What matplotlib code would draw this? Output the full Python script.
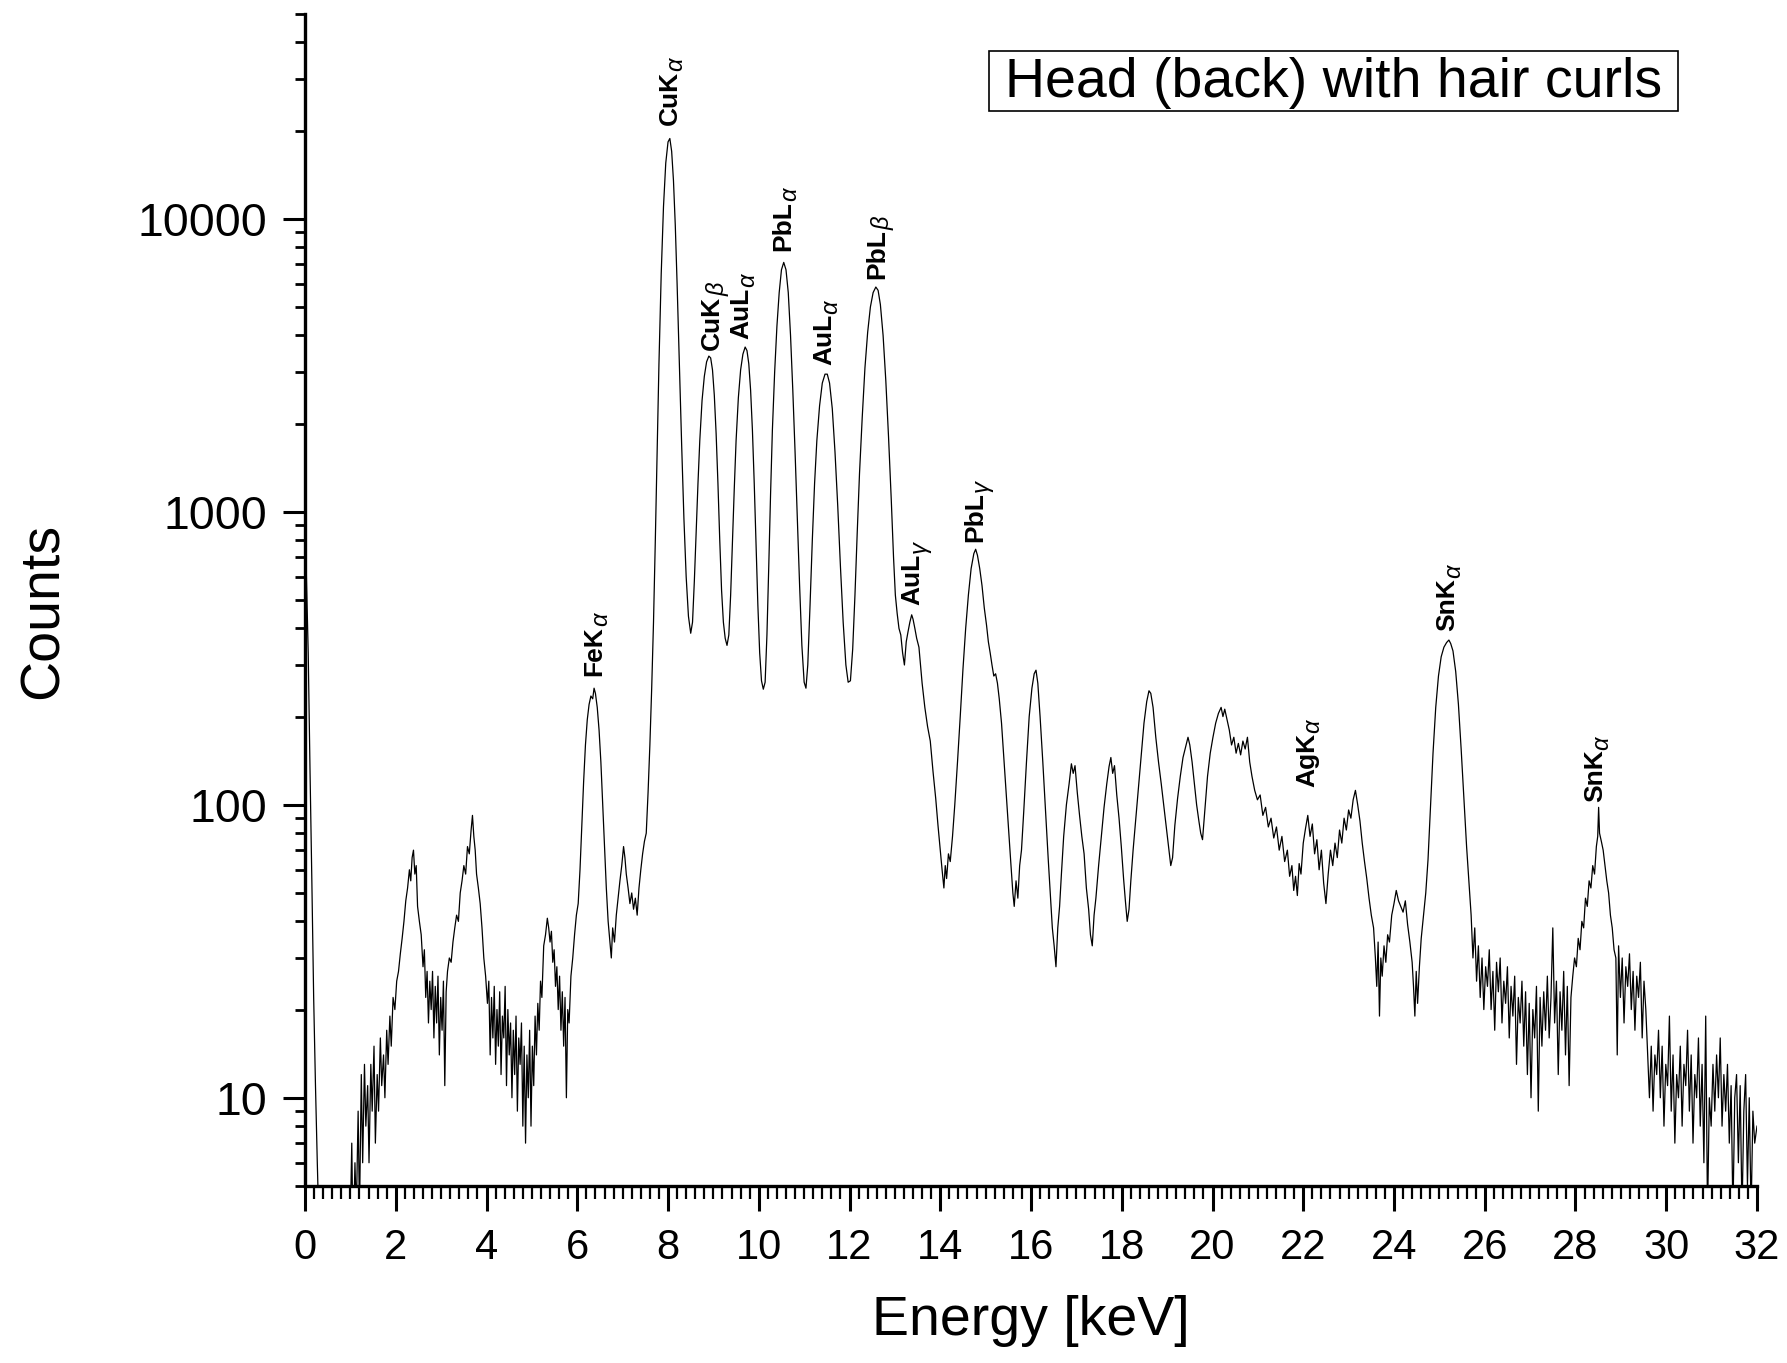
import numpy as np
import matplotlib
matplotlib.use("Agg")
import matplotlib.pyplot as plt
from matplotlib.patches import Rectangle
from matplotlib.ticker import MultipleLocator, LogLocator, NullFormatter

plt.rcParams['font.family'] = 'Liberation Sans'

# spectrum, (energy keV, counts)
low_region = [
    (0.00, 900), (0.03, 600), (0.07, 330), (0.11, 130), (0.15, 55), (0.19, 22), (0.23, 11),
    (0.27, 6), (0.31, 3.5), (0.60, 2), (0.95, 3), (1.00, 4), (1.03, 7), (1.06, 3), (1.10, 6),
    (1.13, 4), (1.17, 9), (1.20, 4), (1.24, 12), (1.27, 6), (1.31, 13), (1.34, 8), (1.38, 11),
    (1.41, 6), (1.45, 13), (1.48, 9), (1.52, 15), (1.55, 7), (1.59, 12), (1.62, 9), (1.66, 16),
    (1.69, 11), (1.73, 14), (1.76, 10), (1.80, 17), (1.83, 13), (1.87, 19), (1.90, 15), (1.94, 22),
    (1.98, 20), (2.02, 25), (2.06, 27), (2.10, 31), (2.14, 35), (2.18, 40), (2.22, 47), (2.26, 52),
    (2.30, 60), (2.33, 55), (2.36, 66), (2.39, 70), (2.42, 58), (2.45, 62), (2.48, 45), (2.52, 40),
    (2.56, 36), (2.60, 28), (2.63, 32), (2.66, 22), (2.69, 27), (2.72, 18), (2.75, 25), (2.78, 20),
    (2.81, 27), (2.84, 16), (2.87, 24), (2.90, 18), (2.93, 26), (2.96, 14), (2.99, 22), (3.02, 17),
    (3.05, 25), (3.08, 11), (3.11, 23), (3.14, 27), (3.18, 30), (3.22, 29), (3.26, 34), (3.30, 38),
    (3.34, 42), (3.38, 40), (3.42, 50), (3.46, 55), (3.50, 62), (3.54, 58), (3.58, 72), (3.62, 68),
    (3.66, 82), (3.69, 92), (3.72, 78), (3.75, 70), (3.78, 58), (3.82, 52), (3.86, 46), (3.90, 38),
    (3.94, 30), (3.98, 26), (4.02, 21), (4.05, 25), (4.08, 14), (4.11, 22), (4.14, 16), (4.17, 24),
    (4.20, 13), (4.23, 20), (4.26, 15), (4.29, 23), (4.32, 12), (4.35, 19), (4.38, 16), (4.41, 24),
    (4.44, 11), (4.47, 20), (4.50, 14), (4.53, 18), (4.56, 10), (4.59, 17), (4.62, 12), (4.65, 19),
    (4.68, 9), (4.71, 16), (4.74, 13), (4.77, 18), (4.80, 8), (4.83, 15), (4.86, 7), (4.89, 14),
    (4.92, 10), (4.95, 17), (4.98, 8), (5.01, 15), (5.04, 11), (5.07, 19), (5.10, 14), (5.13, 21),
    (5.16, 17), (5.19, 25), (5.22, 22), (5.26, 33), (5.30, 36), (5.34, 41), (5.37, 38), (5.40, 34),
    (5.43, 37), (5.46, 29), (5.49, 32), (5.52, 24), (5.55, 28), (5.58, 20), (5.61, 26), (5.64, 17),
    (5.67, 23), (5.70, 15), (5.73, 22), (5.76, 10), (5.79, 20), (5.82, 18), (5.86, 26), (5.90, 30),
    (5.94, 36), (5.98, 42), (6.02, 46), (6.06, 60), (6.10, 85), (6.14, 120), (6.18, 160), (6.22, 195),
    (6.26, 220), (6.30, 235), (6.34, 230), (6.37, 250), (6.40, 240), (6.44, 215), (6.48, 180),
    (6.52, 140), (6.56, 100), (6.60, 70), (6.64, 52), (6.68, 40), (6.72, 34), (6.75, 30), (6.78, 38),
    (6.82, 34), (6.86, 42), (6.90, 48), (6.94, 55), (6.98, 62), (7.02, 72), (7.05, 66), (7.08, 58),
    (7.12, 52), (7.16, 46), (7.20, 50), (7.24, 44), (7.28, 48), (7.32, 42), (7.36, 52), (7.40, 60),
    (7.44, 68), (7.48, 75), (7.52, 80), (7.56, 110), (7.60, 160),
]

peak_region = [
    (7.64, 250), (7.68, 420), (7.72, 800), (7.76, 1600), (7.80, 3200), (7.85, 6500), (7.90, 11000),
    (7.95, 15500), (8.00, 18300), (8.04, 18800), (8.08, 17000), (8.12, 13500), (8.16, 9500),
    (8.20, 6000), (8.25, 3200), (8.30, 1700), (8.35, 950), (8.40, 600), (8.45, 440), (8.50, 385),
    (8.54, 420), (8.58, 580), (8.62, 850), (8.66, 1250), (8.70, 1750), (8.75, 2400), (8.80, 2900),
    (8.85, 3250), (8.90, 3400), (8.94, 3350), (8.98, 3050), (9.02, 2500), (9.06, 1850), (9.10, 1250),
    (9.14, 800), (9.18, 540), (9.22, 420), (9.26, 370), (9.30, 350), (9.34, 380), (9.38, 520),
    (9.42, 800), (9.46, 1200), (9.50, 1750), (9.55, 2450), (9.60, 3050), (9.65, 3450), (9.70, 3650),
    (9.74, 3550), (9.78, 3200), (9.82, 2600), (9.86, 1900), (9.90, 1250), (9.94, 780), (9.98, 480),
    (10.02, 330), (10.06, 265), (10.10, 248), (10.14, 262), (10.18, 380), (10.22, 650), (10.26, 1150),
    (10.30, 1900), (10.35, 3000), (10.40, 4300), (10.45, 5600), (10.50, 6700), (10.55, 7100),
    (10.60, 6700), (10.65, 5600), (10.70, 4000), (10.75, 2600), (10.80, 1600), (10.85, 950),
    (10.90, 560), (10.95, 350), (11.00, 262), (11.04, 250), (11.08, 300), (11.13, 480), (11.18, 800),
    (11.23, 1250), (11.28, 1750), (11.34, 2300), (11.40, 2750), (11.46, 2950), (11.51, 2950),
    (11.56, 2750), (11.62, 2250), (11.68, 1600), (11.74, 1050), (11.80, 650), (11.86, 420),
    (11.92, 300), (11.97, 262), (12.02, 265), (12.07, 340), (12.12, 520), (12.17, 850), (12.22, 1350),
    (12.28, 2100), (12.34, 3100), (12.40, 4100), (12.46, 5000), (12.52, 5600), (12.58, 5850),
    (12.63, 5700), (12.68, 5100), (12.74, 4000), (12.80, 2800), (12.86, 1800), (12.92, 1100),
    (12.97, 700), (13.01, 520), (13.05, 450), (13.09, 400), (13.13, 380), (13.17, 330), (13.21, 300),
    (13.25, 360), (13.29, 390), (13.33, 420), (13.37, 445), (13.40, 430), (13.44, 400), (13.48, 370),
    (13.53, 345), (13.60, 260), (13.66, 215), (13.72, 185), (13.78, 165), (13.84, 130), (13.90, 105),
    (13.95, 85), (14.00, 70), (14.04, 60), (14.08, 52), (14.11, 62), (14.14, 56), (14.18, 68),
    (14.22, 64), (14.27, 78), (14.32, 100), (14.38, 140), (14.44, 200), (14.50, 290), (14.56, 400),
    (14.62, 520), (14.68, 640), (14.74, 720), (14.78, 745), (14.82, 710), (14.87, 640), (14.92, 560),
    (14.97, 470), (15.02, 410), (15.06, 360), (15.10, 330), (15.14, 300), (15.18, 275), (15.22, 280),
    (15.26, 260), (15.30, 230), (15.35, 190), (15.40, 145), (15.45, 110), (15.50, 85), (15.55, 65),
    (15.60, 50), (15.63, 45), (15.67, 55), (15.71, 48), (15.75, 62), (15.79, 70), (15.84, 95),
]

mid_region = [
    (15.90, 140), (15.96, 200), (16.02, 250), (16.07, 280), (16.11, 288), (16.15, 260), (16.20, 200),
    (16.26, 140), (16.32, 95), (16.38, 65), (16.43, 48), (16.47, 38), (16.51, 33), (16.55, 28),
    (16.59, 38), (16.63, 45), (16.67, 58), (16.72, 78), (16.78, 100), (16.84, 118), (16.89, 138),
    (16.93, 128), (16.97, 136), (17.02, 110), (17.07, 92), (17.12, 78), (17.17, 68), (17.22, 52),
    (17.27, 44), (17.31, 36), (17.35, 33), (17.39, 42), (17.43, 48), (17.49, 62), (17.55, 78),
    (17.61, 98), (17.67, 118), (17.72, 135), (17.76, 145), (17.80, 128), (17.84, 136), (17.89, 108),
    (17.94, 90), (17.99, 72), (18.04, 56), (18.08, 47), (18.12, 40), (18.16, 44), (18.20, 55),
    (18.25, 70), (18.31, 90), (18.37, 115), (18.43, 150), (18.49, 190), (18.55, 225), (18.60, 245),
    (18.64, 240), (18.69, 215), (18.75, 170), (18.81, 140), (18.87, 118), (18.93, 98), (18.99, 82),
    (19.04, 70), (19.08, 62), (19.12, 66), (19.17, 85), (19.23, 105), (19.29, 125), (19.35, 145),
    (19.41, 158), (19.46, 170), (19.50, 160), (19.55, 140), (19.60, 118), (19.65, 100), (19.70, 88),
    (19.74, 80), (19.78, 76), (19.83, 95), (19.89, 125), (19.95, 150), (20.01, 170), (20.07, 190),
    (20.13, 205), (20.19, 215), (20.23, 200), (20.27, 212), (20.32, 195), (20.37, 180), (20.42, 160),
    (20.47, 170), (20.52, 150), (20.57, 162), (20.62, 148), (20.67, 165), (20.72, 155), (20.77, 170),
    (20.82, 140), (20.87, 125), (20.93, 112), (20.99, 104), (21.05, 108), (21.11, 92), (21.17, 98),
    (21.23, 84), (21.29, 90), (21.35, 77), (21.41, 84), (21.47, 70), (21.53, 78), (21.59, 64),
    (21.65, 70), (21.70, 57), (21.75, 62), (21.79, 51), (21.83, 57), (21.87, 49), (21.91, 63),
    (21.95, 58), (22.00, 74), (22.05, 83), (22.10, 92), (22.15, 78), (22.20, 86), (22.25, 68),
    (22.30, 76), (22.35, 60), (22.40, 70), (22.45, 54), (22.50, 46), (22.55, 58), (22.60, 70),
    (22.65, 62), (22.70, 74), (22.75, 66), (22.80, 82), (22.85, 74), (22.90, 90), (22.95, 82),
    (23.00, 96), (23.05, 90), (23.10, 104), (23.15, 112), (23.20, 100), (23.25, 88), (23.30, 74),
    (23.35, 64), (23.40, 56), (23.45, 48), (23.50, 42), (23.55, 38), (23.59, 30), (23.62, 24),
    (23.65, 34), (23.68, 19), (23.71, 30), (23.74, 26), (23.78, 33), (23.82, 29), (23.86, 36),
    (23.90, 34), (23.95, 42), (24.00, 46), (24.05, 51), (24.10, 47), (24.15, 45), (24.20, 43),
    (24.25, 47), (24.30, 39), (24.35, 34), (24.40, 29), (24.43, 24), (24.46, 19), (24.49, 27),
    (24.52, 21), (24.56, 28), (24.60, 35), (24.65, 42), (24.70, 50), (24.75, 65), (24.80, 95),
    (24.86, 150), (24.92, 215), (24.98, 275), (25.04, 320), (25.10, 345), (25.16, 358), (25.21, 365),
    (25.25, 355), (25.30, 335), (25.36, 285), (25.42, 220), (25.48, 155), (25.54, 105), (25.60, 72),
    (25.66, 52), (25.70, 42),
]

high_region = [
    (25.74, 30), (25.78, 38), (25.82, 25), (25.86, 33), (25.90, 22), (25.94, 30), (25.98, 20),
    (26.02, 28), (26.06, 24), (26.10, 32), (26.14, 20), (26.18, 27), (26.22, 17), (26.26, 29),
    (26.30, 23), (26.34, 30), (26.38, 18), (26.42, 25), (26.46, 21), (26.50, 28), (26.54, 16),
    (26.58, 24), (26.62, 19), (26.66, 26), (26.70, 13), (26.74, 22), (26.78, 18), (26.82, 25),
    (26.86, 15), (26.90, 23), (26.94, 12), (26.98, 21), (27.02, 10), (27.06, 20), (27.10, 16),
    (27.14, 24), (27.18, 9), (27.22, 22), (27.26, 15), (27.30, 23), (27.34, 17), (27.38, 26),
    (27.42, 16), (27.46, 22), (27.50, 38), (27.54, 18), (27.58, 25), (27.62, 12), (27.66, 23),
    (27.70, 17), (27.74, 27), (27.78, 14), (27.82, 24), (27.86, 11), (27.90, 22), (27.94, 26),
    (27.98, 30), (28.02, 28), (28.06, 35), (28.10, 32), (28.14, 40), (28.18, 38), (28.22, 48),
    (28.26, 45), (28.30, 55), (28.34, 52), (28.38, 62), (28.42, 58), (28.46, 72), (28.49, 78),
    (28.51, 98), (28.53, 80), (28.57, 75), (28.61, 70), (28.65, 62), (28.69, 55), (28.73, 50),
    (28.77, 42), (28.81, 38), (28.85, 32), (28.89, 30), (28.92, 14), (28.95, 33), (28.99, 22),
    (29.03, 30), (29.07, 18), (29.11, 28), (29.15, 24), (29.19, 31), (29.23, 20), (29.27, 27),
    (29.31, 17), (29.35, 26), (29.39, 22), (29.43, 29), (29.47, 16), (29.51, 25), (29.55, 20),
    (29.59, 14), (29.63, 10), (29.67, 15), (29.71, 9), (29.75, 14), (29.79, 12), (29.83, 17),
    (29.87, 10), (29.91, 15), (29.95, 8), (29.99, 13), (30.03, 11), (30.07, 19), (30.11, 9),
    (30.15, 14), (30.19, 7), (30.23, 12), (30.27, 10), (30.31, 15), (30.35, 8), (30.39, 13),
    (30.43, 11), (30.47, 17), (30.51, 9), (30.55, 14), (30.59, 7), (30.63, 12), (30.67, 10),
    (30.71, 16), (30.75, 8), (30.79, 13), (30.83, 6), (30.87, 19), (30.91, 4), (30.95, 10),
    (30.99, 8), (31.03, 13), (31.07, 9), (31.11, 14), (31.15, 10), (31.19, 16), (31.23, 8),
    (31.27, 12), (31.31, 9), (31.35, 13), (31.39, 7), (31.43, 11), (31.47, 4), (31.51, 10),
    (31.55, 12), (31.59, 6), (31.63, 11), (31.67, 4), (31.71, 9), (31.75, 12), (31.79, 5),
    (31.83, 10), (31.87, 4), (31.91, 9), (31.95, 7), (32.00, 8),
]

# peak labels: element+line, greek subscript, energy of the label, counts where the label starts
label_main = ['FeK', 'CuK', 'CuK', 'AuL', 'PbL', 'AuL', 'PbL', 'AuL', 'PbL', 'AgK', 'SnK', 'SnK']
label_sub = ['α', 'α', 'β', 'α', 'α', 'α', 'β', 'γ', 'γ', 'α', 'α', 'α']
label_energy = [6.38, 8.04, 8.97, 9.62, 10.55, 11.45, 12.61, 13.39, 14.77, 22.08, 25.17, 28.44]
label_counts = [276, 20850, 3565, 3900, 7770, 3170, 6210, 482, 789, 115, 392, 102]

x_ticks = list(range(0, 33, 2))
y_ticks = [10, 100, 1000, 10000]
y_tick_labels = ['10', '100', '1000', '10000']
sample_name = 'Head (back) with hair curls'

spectrum = low_region + peak_region + mid_region + high_region
energy = np.array([p[0] for p in spectrum])
counts = np.array([p[1] for p in spectrum])

fig = plt.figure(figsize=(17.87, 13.63), dpi=100)
ax = fig.add_axes([0.1707, 0.1299, 0.8125, 0.8598])
ax.plot(energy, counts, color='black', lw=0.9)

ax.set_yscale('log')
ax.set_xlim(0, 32)
ax.set_ylim(5, 50000)

for s in ['top', 'right']:
    ax.spines[s].set_visible(False)
for s in ['left', 'bottom']:
    ax.spines[s].set_linewidth(2.4)

ax.set_xticks(x_ticks)
ax.set_xticklabels([str(t) for t in x_ticks])
ax.xaxis.set_minor_locator(MultipleLocator(0.2))
ax.set_yticks(y_ticks)
ax.set_yticklabels(y_tick_labels)
ax.yaxis.set_minor_locator(LogLocator(base=10, subs=np.arange(2, 10), numticks=20))
ax.yaxis.set_minor_formatter(NullFormatter())

ax.tick_params(axis='x', which='major', direction='out', length=18, width=2.2, labelsize=30, pad=12)
ax.tick_params(axis='x', which='minor', direction='out', length=9, width=1.6)
ax.tick_params(axis='y', which='major', direction='out', length=15.5, width=2.2, labelsize=33.5, pad=12)
ax.tick_params(axis='y', which='minor', direction='out', length=7, width=2.0)

ax.set_xlabel('Energy [keV]', fontsize=40)
ax.xaxis.set_label_coords(0.5, -0.093)
ax.set_ylabel('Counts', fontsize=40)
ax.yaxis.set_label_coords(-0.162, 0.491)

# rotated peak labels, the greek letter drawn as a subscript after the main text
for lab, sub, xe, yc in zip(label_main, label_sub, label_energy, label_counts):
    t = ax.text(xe, yc, lab, rotation=90, ha='center', va='bottom', fontsize=19, fontweight='bold')
    ax.annotate(sub, xy=(1, 1), xycoords=t, xytext=(-12.5, 0), textcoords='offset points',
                rotation=90, ha='left', va='bottom', fontsize=17, style='italic')

ax.add_patch(Rectangle((0.4711, 0.9172), 0.4745, 0.0512, transform=ax.transAxes,
                       fill=False, edgecolor='black', lw=1.2, clip_on=False))
ax.text(0.7083, 0.9292, sample_name, transform=ax.transAxes, ha='center', va='baseline', fontsize=40)

fig.savefig('out.png', dpi=100)
